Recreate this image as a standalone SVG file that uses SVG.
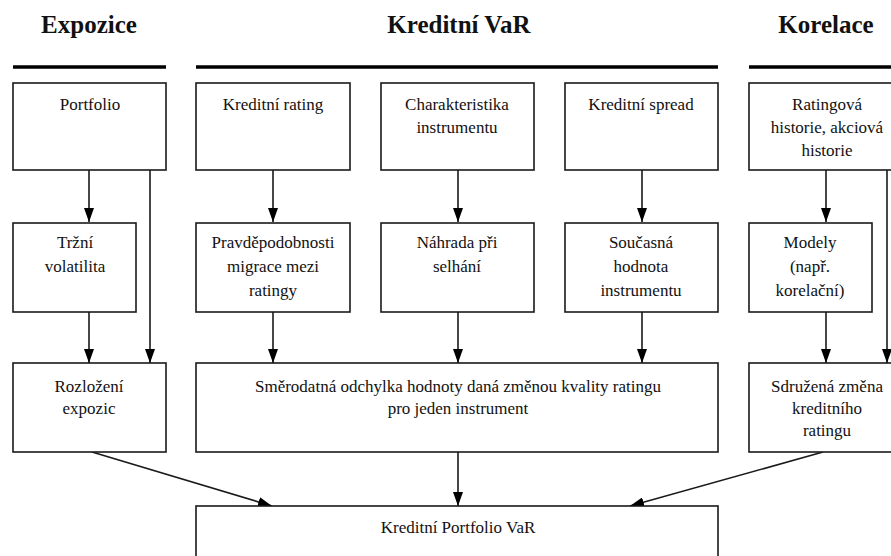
<svg xmlns="http://www.w3.org/2000/svg" width="891" height="556" viewBox="0 0 891 556">
<style>
.box{fill:#fff;stroke:#1a1a1a;stroke-width:1.6}
.t{font-size:17px;fill:#111;text-anchor:middle}
.h{font-size:25px;font-weight:bold;fill:#111;text-anchor:middle}
.bar{stroke:#000;stroke-width:3.5}
.c{stroke:#1a1a1a;stroke-width:1.6;fill:none;marker-end:url(#ah)}
</style>
<defs>
<marker id="ah" markerUnits="userSpaceOnUse" viewBox="0 0 14 10" refX="14" refY="5" markerWidth="14" markerHeight="10" orient="auto">
<path d="M0,0 L14,5 L0,10 z" fill="#000"/>
</marker>
</defs>
<rect width="891" height="556" fill="#fff"/>
<g font-family="'Liberation Serif', 'DejaVu Serif', serif">
<g id="headers">
<text class="h" x="89" y="33">Expozice</text>
<text class="h" x="459" y="33">Kreditní VaR</text>
<text class="h" x="826" y="33">Korelace</text>
</g>
<g id="bars">
<line class="bar" x1="13" y1="67" x2="166" y2="67"/>
<line class="bar" x1="196" y1="67" x2="718" y2="67"/>
<line class="bar" x1="749" y1="67" x2="891" y2="67"/>
</g>
<g id="connectors">
<line class="c" x1="89" y1="170" x2="89" y2="222"/>
<line class="c" x1="150" y1="170" x2="150" y2="363"/>
<line class="c" x1="89" y1="312" x2="89" y2="363"/>
<line class="c" x1="273" y1="170" x2="273" y2="222"/>
<line class="c" x1="273" y1="312" x2="273" y2="363"/>
<line class="c" x1="458" y1="170" x2="458" y2="222"/>
<line class="c" x1="458" y1="312" x2="458" y2="363"/>
<line class="c" x1="642" y1="170" x2="642" y2="222"/>
<line class="c" x1="642" y1="312" x2="642" y2="363"/>
<line class="c" x1="826" y1="170" x2="826" y2="222"/>
<line class="c" x1="826" y1="312" x2="826" y2="363"/>
<line class="c" x1="887" y1="170" x2="887" y2="363"/>
<line class="c" x1="92" y1="452" x2="272" y2="506"/>
<line class="c" x1="458" y1="452" x2="458" y2="506"/>
<line class="c" x1="823" y1="452" x2="630" y2="506"/>
</g>
<g id="portfolio"><rect class="box" x="13" y="83" width="153" height="87"/><text class="t" x="90" y="110">Portfolio</text></g>
<g id="kreditni-rating"><rect class="box" x="196" y="83" width="154" height="87"/><text class="t" x="273" y="110">Kreditní rating</text></g>
<g id="charakteristika"><rect class="box" x="381" y="83" width="153" height="87"/><text class="t" x="457" y="110">Charakteristika</text><text class="t" x="457" y="133">instrumentu</text></g>
<g id="kreditni-spread"><rect class="box" x="565" y="83" width="153" height="87"/><text class="t" x="641" y="110">Kreditní spread</text></g>
<g id="ratingova-historie"><rect class="box" x="749" y="83" width="156" height="87"/><text class="t" x="827" y="110">Ratingová</text><text class="t" x="827" y="133">historie, akciová</text><text class="t" x="827" y="156">historie</text></g>
<g id="trzni-volatilita"><rect class="box" x="13" y="223" width="123" height="89"/><text class="t" x="75" y="248">Tržní</text><text class="t" x="75" y="272">volatilita</text></g>
<g id="pravdepodobnosti"><rect class="box" x="196" y="223" width="154" height="89"/><text class="t" x="273" y="248">Pravděpodobnosti</text><text class="t" x="273" y="272">migrace mezi</text><text class="t" x="273" y="296">ratingy</text></g>
<g id="nahrada"><rect class="box" x="381" y="223" width="153" height="89"/><text class="t" x="457" y="248">Náhrada při</text><text class="t" x="457" y="272">selhání</text></g>
<g id="soucasna-hodnota"><rect class="box" x="565" y="223" width="153" height="89"/><text class="t" x="641" y="248">Současná</text><text class="t" x="641" y="272">hodnota</text><text class="t" x="641" y="296">instrumentu</text></g>
<g id="modely"><rect class="box" x="749" y="223" width="123" height="89"/><text class="t" x="810" y="248">Modely</text><text class="t" x="810" y="272">(např.</text><text class="t" x="810" y="296">korelační)</text></g>
<g id="rozlozeni-expozic"><rect class="box" x="13" y="363" width="153" height="89"/><text class="t" x="89" y="392">Rozložení</text><text class="t" x="89" y="414">expozic</text></g>
<g id="smerodatna-odchylka"><rect class="box" x="196" y="363" width="522" height="89"/><text class="t" x="458" y="392">Směrodatná odchylka hodnoty daná změnou kvality ratingu</text><text class="t" x="458" y="414">pro jeden instrument</text></g>
<g id="sdruzena-zmena"><rect class="box" x="749" y="363" width="156" height="89"/><text class="t" x="827" y="392">Sdružená změna</text><text class="t" x="827" y="414">kreditního</text><text class="t" x="827" y="436">ratingu</text></g>
<g id="kreditni-portfolio-var"><rect class="box" x="196" y="506" width="522" height="60"/><text class="t" x="458" y="533">Kreditní Portfolio VaR</text></g>
</g>
</svg>
